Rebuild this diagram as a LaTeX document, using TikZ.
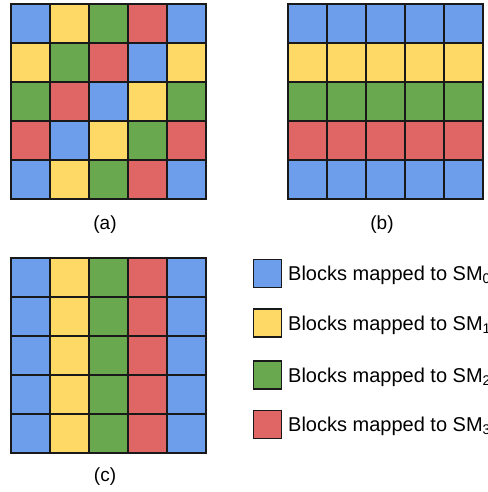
\documentclass[tikz,border=0pt]{standalone}
\usepackage{fontspec}
\setmainfont{Liberation Sans}
\definecolor{sm0}{HTML}{6D9EEB}
\definecolor{sm1}{HTML}{FFD966}
\definecolor{sm2}{HTML}{6AA84F}
\definecolor{sm3}{HTML}{E06666}
\tikzset{
  cell/.style={draw=black!90, line width=1.6pt},
  swatch/.style={draw=black!90, line width=1.4pt},
  caption/.style={font=\fontsize{19}{22}\selectfont, inner sep=0pt},
  legtext/.style={font=\fontsize{20}{24}\selectfont, inner sep=0pt, anchor=base west},
}
\begin{document}
\begin{tikzpicture}[x=1pt,y=-1pt]
\useasboundingbox (0,0) rectangle (487,492);
\fill[white] (0,0) rectangle (487,492);
% (a) diagonal assignment
\foreach \r in {0,...,4}
  \foreach \c in {0,...,4} {
    \pgfmathtruncatemacro\k{mod(\r+\c,4)}
    \filldraw[cell, fill=sm\k] ({11+39*\c},{4+39*\r}) rectangle ++(39,39);
  }
% (b) row-wise assignment
\foreach \r in {0,...,4}
  \foreach \c in {0,...,4} {
    \pgfmathtruncatemacro\k{mod(\r,4)}
    \filldraw[cell, fill=sm\k] ({288+39*\c},{4+39*\r}) rectangle ++(39,39);
  }
% (c) column-wise assignment
\foreach \r in {0,...,4}
  \foreach \c in {0,...,4} {
    \pgfmathtruncatemacro\k{mod(\c,4)}
    \filldraw[cell, fill=sm\k] ({11+39*\c},{258+39*\r}) rectangle ++(39,39);
  }
% captions
\node[caption] (capa) at (105,225) {(a)};
\node[caption] (capb) at (382,225) {(b)};
\node[caption] (capc) at (105,477) {(c)};
% legend
\foreach \i/\y in {0/259.5,1/309,2/361,3/410.5} {
  \filldraw[swatch, fill=sm\i] (253.5,\y) rectangle ++(28,28);
  \node[legtext] (leg\i) at (288,{\y+21}) {Blocks mapped to SM\textsubscript{\i}};
}
\end{tikzpicture}
\end{document}
